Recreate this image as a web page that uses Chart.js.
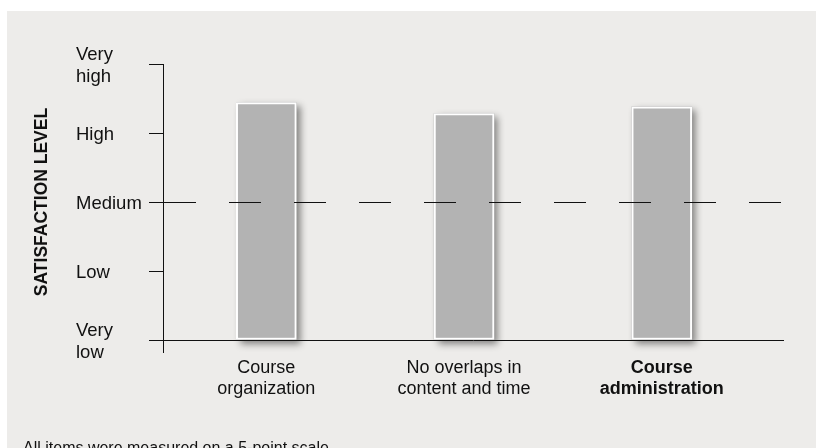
<!DOCTYPE html>
<html>
<head>
<meta charset="utf-8">
<script src="https://cdn.jsdelivr.net/npm/chart.js@4"></script>
<style>
  html, body { margin: 0; padding: 0; background: #fff; }
  body { width: 816px; height: 448px; position: relative; overflow: hidden; }
  #panel { position: absolute; left: 7px; top: 11px; width: 809px; height: 437px; background: #edecea; overflow: hidden; }
  #chart { position: absolute; left: 0; top: 0; }
  #note { position: absolute; left: 16px; top: 428px; font: 16px 'Liberation Sans', Arial, sans-serif; color: #111; white-space: nowrap; }
</style>
</head>
<body>
<div id="panel">
  <canvas id="chart" width="809" height="437"></canvas>
  <div id="note">All items were measured on a 5-point scale</div>
</div>
<script>
// ---- data ----
const categories = [['Course', 'organization'], ['No overlaps in', 'content and time'], ['Course', 'administration']];
const satisfaction = [4.44, 4.28, 4.38];
const levelLabels = [['Very', 'low'], 'Low', 'Medium', 'High', ['Very', 'high']];
const referenceLevel = 3; // Medium
const scaleBottom = 1;    // Very low

const FONT = "'Liberation Sans', Arial, Helvetica, sans-serif";
const INK = '#111';
const BAR = '#b3b3b3';

const points = satisfaction.map((v, i) => ({ x: i + 1, y: v }));

// shadow under the bars (drawn by a copy of the dataset, below the real one)
const barShadow = {
  id: 'barShadow',
  beforeDatasetDraw(chart, args) {
    if (args.index !== 1) return;
    const ctx = chart.ctx;
    ctx.save();
    ctx.shadowColor = 'rgba(0,0,0,0.45)';
    ctx.shadowBlur = 7;
    ctx.shadowOffsetX = 4;
    ctx.shadowOffsetY = 4;
  },
  afterDatasetDraw(chart, args) {
    if (args.index === 1) chart.ctx.restore();
  }
};

// y axis runs a little past the x axis at the origin
const originCross = {
  id: 'originCross',
  afterDraw(chart) {
    const { ctx, chartArea, scales } = chart;
    const x = Math.round(scales.y.left + scales.y.width) + 0.5;
    ctx.save();
    ctx.strokeStyle = INK;
    ctx.lineWidth = 1;
    ctx.beginPath();
    ctx.moveTo(x, chartArea.bottom);
    ctx.lineTo(x, chartArea.bottom + 13);
    ctx.stroke();
    ctx.restore();
  }
};

new Chart(document.getElementById('chart'), {
  type: 'bar',
  data: {
    datasets: [{
      data: points,
      base: scaleBottom,
      backgroundColor: BAR,
      borderColor: '#ffffff',
      borderWidth: 2,
      borderSkipped: false,
      barThickness: 60,
      grouped: false,
      order: 0
    }, {
      data: points,
      base: scaleBottom,
      backgroundColor: BAR,
      borderWidth: 0,
      barThickness: 60,
      grouped: false,
      clip: false,
      order: 1
    }]
  },
  options: {
    responsive: false,
    animation: false,
    events: [],
    layout: { padding: { left: 0, right: 33, top: 53, bottom: 0 } },
    plugins: { legend: { display: false }, tooltip: { enabled: false } },
    scales: {
      x: {
        type: 'linear',
        min: 0.4776,
        max: 3.613,
        offset: false,
        z: 1,
        grid: { display: false, drawTicks: false },
        border: { display: true, color: INK, width: 1, z: 1 },
        afterBuildTicks: s => { s.ticks = categories.map((c, i) => ({ value: i + 1 })); },
        afterFit: s => { s.height = 108; },
        ticks: {
          autoSkip: false,
          maxRotation: 0,
          padding: 17,
          color: INK,
          font: ctx => ({ family: FONT, size: 18, weight: ctx.index === 2 ? 'bold' : 'normal', lineHeight: 1.2 }),
          callback: v => categories[v - 1]
        }
      },
      y: {
        min: scaleBottom,
        max: 5,
        z: 1,
        weight: 0,
        afterFit: s => { s.width = 87; },
        grid: {
          z: 1,
          color: ctx => ctx.tick && ctx.tick.value === referenceLevel ? INK : 'transparent',
          tickColor: INK,
          tickLength: 14,
          lineWidth: 1
        },
        border: { display: true, color: INK, width: 1, dash: [32, 33], z: 1 },
        ticks: {
          stepSize: 1,
          crossAlign: 'far',
          labelOffset: 2,
          color: INK,
          font: { family: FONT, size: 18.5, lineHeight: 1.15 },
          callback: v => levelLabels[v - 1]
        }
      },
      yTitle: {
        type: 'linear',
        axis: 'y',
        position: 'left',
        weight: 10,
        afterFit: s => { s.width = 69; },
        grid: { display: false, drawTicks: false },
        border: { display: false },
        ticks: { display: false },
        title: {
          display: true,
          text: 'SATISFACTION LEVEL',
          color: INK,
          padding: { top: 25, bottom: 0 },
          font: { family: FONT, size: 17.5, weight: 'bold', lineHeight: 1.2 }
        }
      }
    }
  },
  plugins: [barShadow, originCross]
});
</script>
</body>
</html>
